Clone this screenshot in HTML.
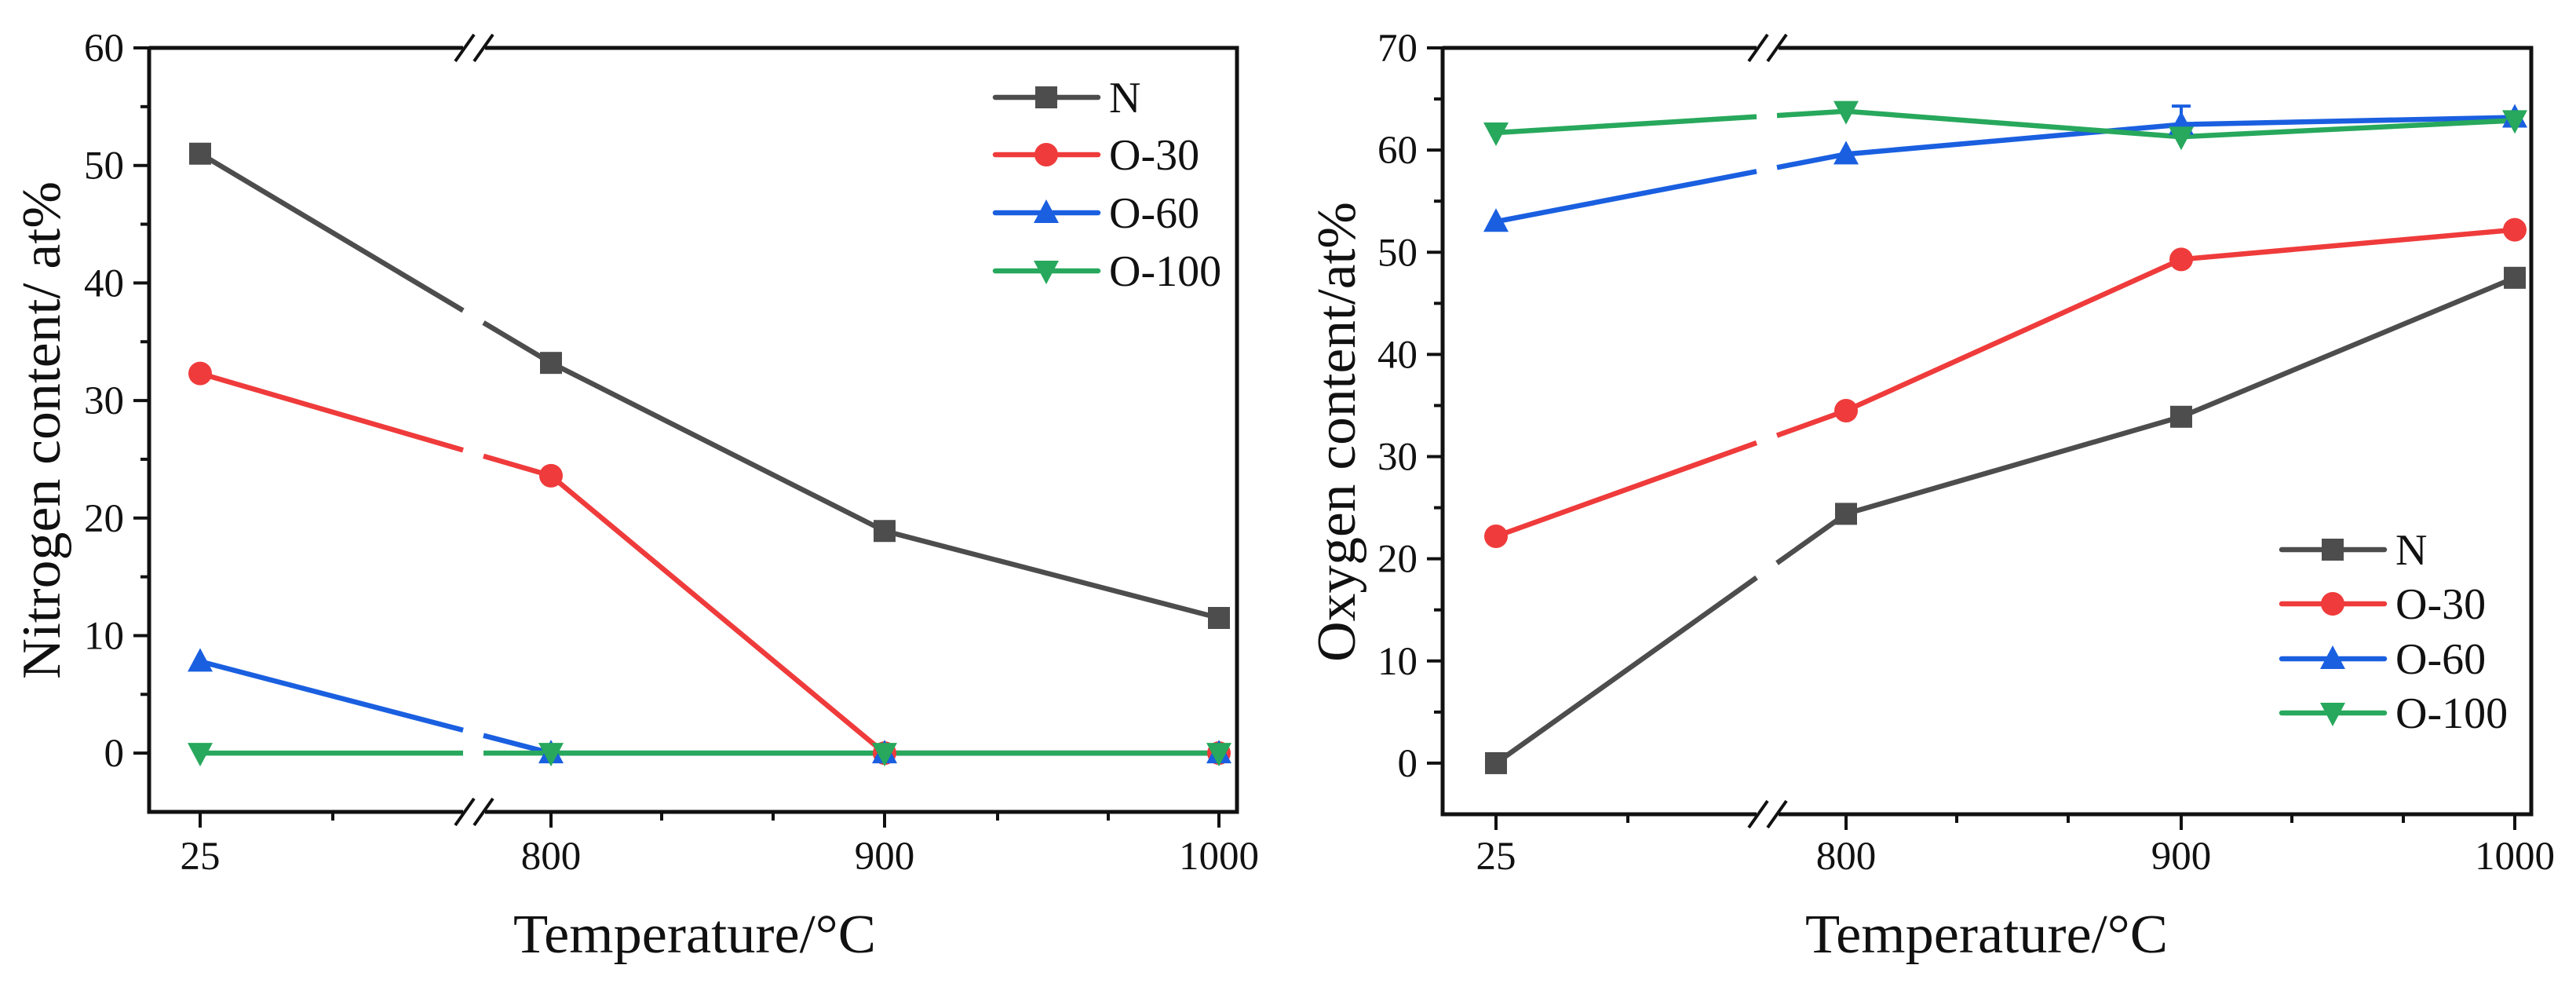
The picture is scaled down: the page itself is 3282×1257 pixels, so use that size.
<!DOCTYPE html>
<html><head><meta charset="utf-8"><style>
html,body{margin:0;padding:0;background:#fff;}
svg{display:block;}
text{font-family:"Liberation Serif",serif;fill:#111;}
</style></head><body>
<svg id="fig" width="3282" height="1257" viewBox="0 0 3282 1257"></svg>
<script>
const categories = ["25","800","900","1000"];
const seriesNames = ["N","O-30","O-60","O-100"];
const nitrogenN = [51.0, 33.2, 18.9, 11.5];
const nitrogenO30 = [32.3, 23.6, 0, 0];
const nitrogenO60 = [7.8, 0, 0, 0];
const nitrogenO100 = [0, 0, 0, 0];
const oxygenN = [0, 24.4, 33.9, 47.5];
const oxygenO30 = [22.2, 34.5, 49.3, 52.2];
const oxygenO60 = [53.0, 59.6, 62.5, 63.2];
const oxygenO100 = [61.7, 63.8, 61.3, 62.9];
const oxygenO60Err = [0, 0, 1.8, 0];
const nitrogenTicks = [0,10,20,30,40,50,60];
const oxygenTicks = [0,10,20,30,40,50,60,70];

const NS="http://www.w3.org/2000/svg";
const svg=document.getElementById('fig');
const colors=["#4d4d4d","#ef3b3b","#1a5fe0","#27a85c"];
const markers=["square","circle","up","down"];
function el(tag,attrs,parent){const e=document.createElementNS(NS,tag);for(const k in attrs)e.setAttribute(k,attrs[k]);(parent||svg).appendChild(e);return e;}

function drawChart(cfg){
  const g=el('g',{});
  
  
  const L=cfg.left,R=cfg.right,T=cfg.top,B=cfg.bottom;
  const yMin=-5,yMax=cfg.yMax;
  const ys=v=>B-(v-yMin)/(yMax-yMin)*(B-T);
  const xs=i=>cfg.xPos[i];
  if(cfg.err){
    cfg.err.vals.forEach((e,i)=>{
      if(!e)return;
      const v=cfg.series[cfg.err.s][i];
      const eb=el('path',{d:`M${xs(i)},${ys(v)}V${ys(v+e)}M${xs(i)-12},${ys(v+e)}H${xs(i)+12}`,stroke:colors[cfg.err.s],'stroke-width':4,fill:'none'},g);
      
      
    });
  }
  cfg.series.forEach((vals,s)=>{
    const pts=vals.map((v,i)=>[xs(i),ys(v)]);
    const [x0,y0]=pts[0],[x1,y1]=pts[1];
    const f=t=>[x0+(x1-x0)*t,y0+(y1-y0)*t];
    const ta=(cfg.brk-14-x0)/(x1-x0),tb=(cfg.brk+12-x0)/(x1-x0);
    const a=f(ta),b=f(tb);
    const d1=`M${x0},${y0}L${a[0]},${a[1]}M${b[0]},${b[1]}L${x1},${y1}`+pts.slice(2).map(p=>`L${p[0]},${p[1]}`).join('');
    const p=el('path',{d:d1,stroke:colors[s],'stroke-width':6.5,fill:'none','stroke-linejoin':'round'},g);
    
    
  });
  cfg.series.forEach((vals,s)=>{
    vals.forEach((v,i)=>{
      const m=drawMarker(g,markers[s],xs(i),ys(v),colors[s]);
      
      
    });
  });
  const ax=el('path',{d:`M${L},${T}H${cfg.brk-14}M${cfg.brk+14},${T}H${R}V${B}H${cfg.brk+14}M${cfg.brk-14},${B}H${L}V${T}`,stroke:'#111','stroke-width':5,fill:'none'},g);
  
  
  [T,B].forEach(yy=>{
    [-12,12].forEach(dx=>{
      const bm=el('line',{x1:cfg.brk+dx-12,y1:yy+17,x2:cfg.brk+dx+12,y2:yy-17,stroke:'#111','stroke-width':4},g);
      
      
    });
  });
  cfg.yTicks.forEach(v=>{
    el('line',{x1:L-20,x2:L,y1:ys(v),y2:ys(v),stroke:'#111','stroke-width':4},g);
    const t=el('text',{x:L-32,y:ys(v)+17,'text-anchor':'end','font-size':51},g);
    t.textContent=v;
    
    
    if(v+5<yMax) el('line',{x1:L-11,x2:L,y1:ys(v+5),y2:ys(v+5),stroke:'#111','stroke-width':4},g);
  });
  categories.forEach((c,i)=>{
    el('line',{x1:xs(i),x2:xs(i),y1:B,y2:B+20,stroke:'#111','stroke-width':4},g);
    const t=el('text',{x:xs(i),y:cfg.tickBase,'text-anchor':'middle','font-size':51},g);
    t.textContent=c;
    
    
  });
  cfg.minorX.forEach(x=>el('line',{x1:x,x2:x,y1:B,y2:B+11,stroke:'#111','stroke-width':4},g));
  const xt=el('text',{x:cfg.xTitleX,y:1213,'text-anchor':'middle','font-size':70,textLength:462,lengthAdjust:'spacingAndGlyphs'},g);
  xt.textContent='Temperature/°C';
  
  
  const yt=el('text',{x:0,y:0,'text-anchor':'middle','font-size':70,textLength:cfg.yTitleLen,lengthAdjust:'spacingAndGlyphs',transform:`translate(${cfg.yTitleX},${cfg.yTitleY}) rotate(-90)`},g);
  yt.textContent=cfg.yTitle;
  
  
  const lg=el('g',{},g);
  
  
  seriesNames.forEach((n,s)=>{
    const yy=cfg.legY[s];
    const e=el('g',{},lg);
    
    
    el('line',{x1:cfg.legX,x2:cfg.legX+131,y1:yy,y2:yy,stroke:colors[s],'stroke-width':6.5,'stroke-linecap':'round'},e);
    drawMarker(e,markers[s],cfg.legX+65,yy,colors[s]);
    const t=el('text',{x:cfg.legX+145,y:yy+19,'font-size':56},e);
    t.textContent=n;
  });
}
function drawMarker(g,type,x,y,c){
  const r=14;
  if(type==='square')return el('rect',{x:x-r,y:y-r,width:2*r,height:2*r,fill:c},g);
  if(type==='circle')return el('circle',{cx:x,cy:y,r:r+1,fill:c},g);
  if(type==='up')return el('polygon',{points:`${x},${y-r-3} ${x+r+2},${y+r-1} ${x-r-2},${y+r-1}`,fill:c},g);
  return el('polygon',{points:`${x},${y+r+3} ${x+r+2},${y-r+1} ${x-r-2},${y-r+1}`,fill:c},g);
}
drawChart({name:'nitrogen-chart',left:190,right:1576,top:61,bottom:1034,yMax:60,
  xPos:[255,702,1127,1553],brk:604,minorX:[424,843,985,1271,1412],
  series:[nitrogenN,nitrogenO30,nitrogenO60,nitrogenO100],yTicks:nitrogenTicks,
  tickBase:1107,xTitleX:885,yTitleX:76,yTitleY:548,yTitle:'Nitrogen content/ at%',yTitleLen:634,
  legX:1268,legY:[124,197,271,345]});
drawChart({name:'oxygen-chart',left:1838,right:3225,top:61,bottom:1037,yMax:70,
  xPos:[1906,2352,2779,3204],brk:2252,minorX:[2074,2493,2635,2920,3062],
  series:[oxygenN,oxygenO30,oxygenO60,oxygenO100],yTicks:oxygenTicks,
  err:{s:2,vals:oxygenO60Err},
  tickBase:1107,xTitleX:2531,yTitleX:1726,yTitleY:550,yTitle:'Oxygen content/at%',yTitleLen:586,
  legX:2907,legY:[700,769,839,908]});
</script>
</body></html>
